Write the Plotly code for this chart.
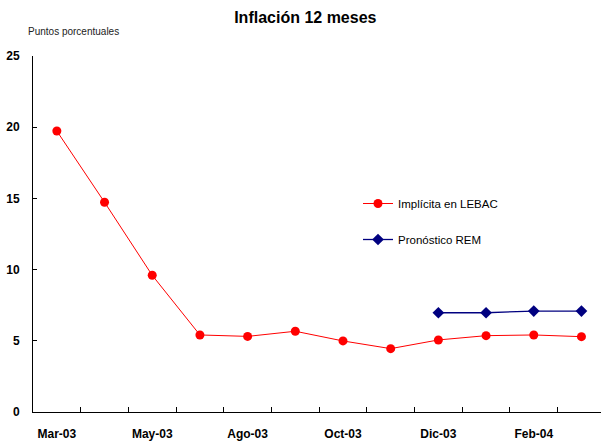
import plotly.graph_objects as go

categories = ["Mar-03", "Abr-03", "May-03", "Jun-03", "Ago-03", "Sep-03",
              "Oct-03", "Nov-03", "Dic-03", "Ene-04", "Feb-04", "Mar-04"]
tick_labels = ["Mar-03", "", "May-03", "", "Ago-03", "", "Oct-03", "", "Dic-03", "", "Feb-04", ""]
lebac = [19.73, 14.73, 9.6, 5.41, 5.31, 5.67, 4.99, 4.45, 5.06, 5.36, 5.41, 5.29]
rem_categories = categories[8:]
rem = [6.97, 6.97, 7.09, 7.09]

W, H = 601, 444
L, R, T, B = 33, 0, 56, 32

fig = go.Figure()
fig.add_trace(go.Scatter(
    x=categories, y=lebac, mode="lines+markers", name="Implícita en LEBAC",
    line=dict(color="#FF0000", width=1),
    marker=dict(symbol="circle", size=9, color="#FF0000"),
    legendgroup="a"))
fig.add_trace(go.Scatter(
    x=rem_categories, y=rem, mode="lines+markers", name="Pronóstico REM",
    line=dict(color="#000080", width=1.3),
    marker=dict(symbol="diamond", size=9, color="#000080"),
    legendgroup="b"))

tick_font = dict(family="Liberation Sans", size=12, color="#000000", weight="bold")

fig.update_layout(
    width=W, height=H,
    margin=dict(l=L, r=R, t=T, b=B, autoexpand=False),
    paper_bgcolor="white", plot_bgcolor="white",
    title=dict(text="<b>Inflación 12 meses</b>", x=0.508, xanchor="center",
               y=1 - 17 / H, yanchor="middle",
               font=dict(family="Liberation Sans", size=16, color="#000000")),
    showlegend=True,
    legend=dict(x=(358 - L) / (W - L - R), y=(412 - 189) / (H - T - B),
                xanchor="left", yanchor="top",
                font=dict(family="Liberation Sans", size=11.5, color="#000000"),
                bgcolor="rgba(0,0,0,0)", itemwidth=30,
                traceorder="grouped", tracegroupgap=17),
    xaxis=dict(
        type="category", categoryorder="array", categoryarray=categories,
        range=[-0.5, 11.41], automargin=False,
        tickmode="array", tickvals=categories, ticktext=tick_labels,
        tickson="boundaries", ticks="inside", ticklen=5, tickcolor="#000000",
        showline=True, linecolor="#000000", linewidth=1,
        showgrid=False, zeroline=False, tickfont=tick_font, tickangle=0,
        ticklabelstandoff=11),
    yaxis=dict(
        range=[0, 25], tick0=0, dtick=5, ticks="inside", ticklen=4,
        tickcolor="#000000", automargin=False,
        showline=True, linecolor="#000000", linewidth=1,
        showgrid=False, zeroline=False, tickfont=tick_font,
        ticklabelstandoff=10),
    annotations=[dict(text="Puntos porcentuales", xref="paper", yref="paper",
                      x=-(L - 26) / (W - L - R), y=1 + (T - 31) / (H - T - B),
                      xanchor="left", yanchor="middle", showarrow=False,
                      font=dict(family="Liberation Sans", size=10, color="#222222"))],
)

fig.write_html("out.html", config={"displayModeBar": False},
               post_script="document.body.style.margin='0';document.body.style.overflow='hidden';")
